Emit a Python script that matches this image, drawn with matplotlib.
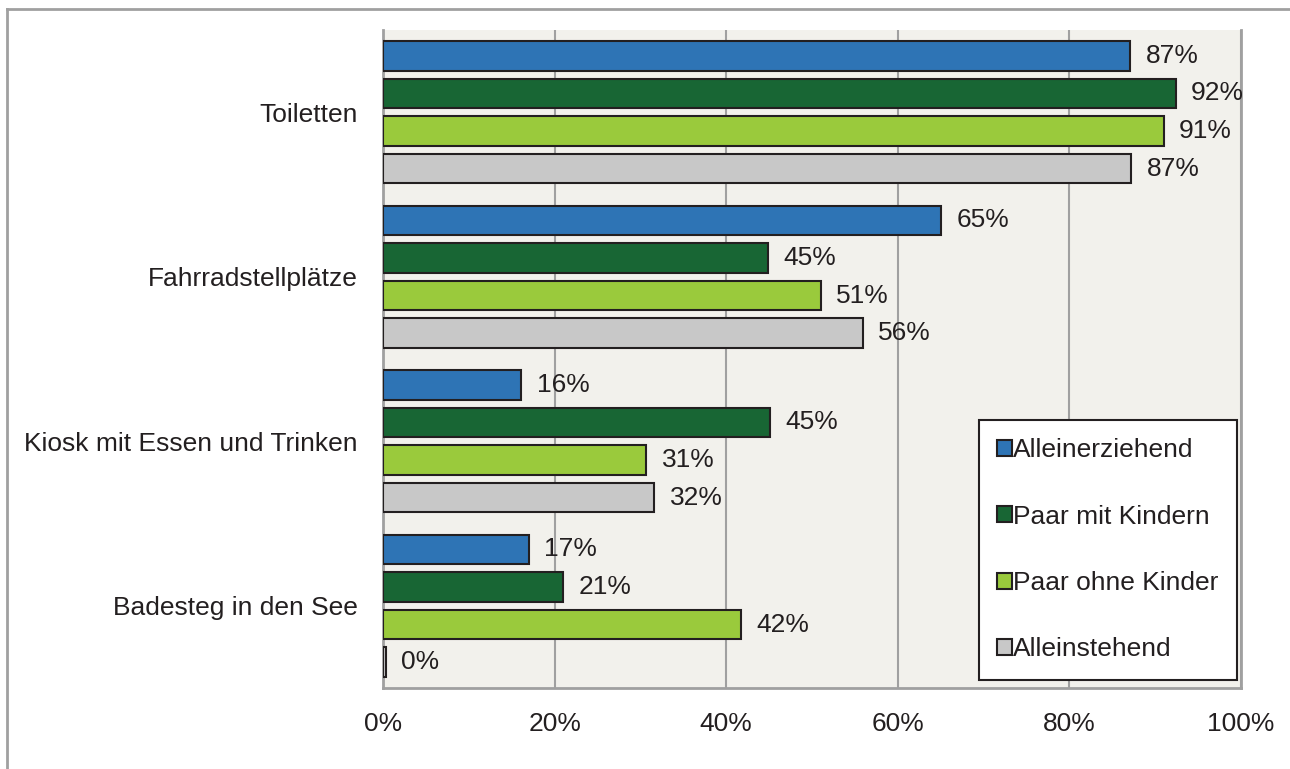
import matplotlib
matplotlib.use("Agg")
import matplotlib.pyplot as plt
from matplotlib.lines import Line2D
import numpy as np

plt.rcParams['font.family'] = ['Liberation Sans', 'DejaVu Sans']

categories = ["Toiletten", "Fahrradstellplätze", "Kiosk mit Essen und Trinken", "Badesteg in den See"]
series = ["Alleinerziehend", "Paar mit Kindern", "Paar ohne Kinder", "Alleinstehend"]
alleinerziehend = [87.1, 65.0, 16.1, 17.0]
paar_mit_kindern = [92.4, 44.9, 45.1, 21.0]
paar_ohne_kinder = [91.0, 51.0, 30.7, 41.7]
alleinstehend = [87.2, 55.9, 31.6, 0.3]
xticks = [0, 20, 40, 60, 80, 100]
xticklabels = ["0%", "20%", "40%", "60%", "80%", "100%"]

values = [alleinerziehend, paar_mit_kindern, paar_ohne_kinder, alleinstehend]
colors = ["#2e74b5", "#186634", "#9aca3c", "#c8c8c8"]
FS = 19

fig = plt.figure(figsize=(12.9, 7.69), dpi=100)
ax = fig.add_axes([383/1290, 1-688/769, (1241-383)/1290, (688-30)/769])
ax.set_facecolor("#f2f1ec")

# outer frame lines
fig.add_artist(Line2D([7/1290, 1.0], [1-9/769, 1-9/769], color="#a0a0a0", lw=2, transform=fig.transFigure))
fig.add_artist(Line2D([7/1290, 7/1290], [1-9/769, 0], color="#a0a0a0", lw=2, transform=fig.transFigure))

ncat = len(categories)
pitch = 0.228
height = 0.182
offsets = (np.arange(4) - 1.5) * pitch
centers = np.arange(ncat)
for i, (vals, col, name) in enumerate(zip(values, colors, series)):
    y = centers + offsets[i]
    bars = ax.barh(y, vals, height=height, color=col, edgecolor="#231f20", linewidth=1.5, label=name, zorder=3)
    for b, v in zip(bars, vals):
        ax.text(v + 1.8, b.get_y() + b.get_height()/2, f"{round(v):.0f}%", va="center", ha="left",
                fontsize=FS, color="#231f20", zorder=4)

ax.set_ylim(ncat - 0.5, -0.5)
ax.set_xlim(0, 100)
ax.set_yticks(centers)
ax.set_yticklabels(categories, fontsize=FS, color="#231f20")
ax.set_xticks(xticks)
ax.set_xticklabels(xticklabels, fontsize=FS, color="#231f20")
ax.tick_params(axis="both", length=0)
ax.tick_params(axis="y", pad=18)
ax.tick_params(axis="x", pad=17)
ax.grid(axis="x", color="#a0a0a0", lw=1.5, zorder=0)
for s in ["left", "bottom", "right"]:
    ax.spines[s].set_color("#a0a0a0")
    ax.spines[s].set_linewidth(2)
ax.spines["top"].set_visible(False)

leg = ax.legend(loc="upper left", bbox_to_anchor=(979/1290, 1-420/769), bbox_transform=fig.transFigure,
                fontsize=FS, frameon=True, fancybox=False, edgecolor="#231f20", facecolor="white",
                framealpha=1, borderpad=0.7, labelspacing=1.6, handlelength=0.55, handleheight=0.55,
                handletextpad=0.05, borderaxespad=0)
leg.get_frame().set_linewidth(1.5)
for t in leg.get_texts():
    t.set_color("#231f20")

fig.savefig("out.png", dpi=100)
